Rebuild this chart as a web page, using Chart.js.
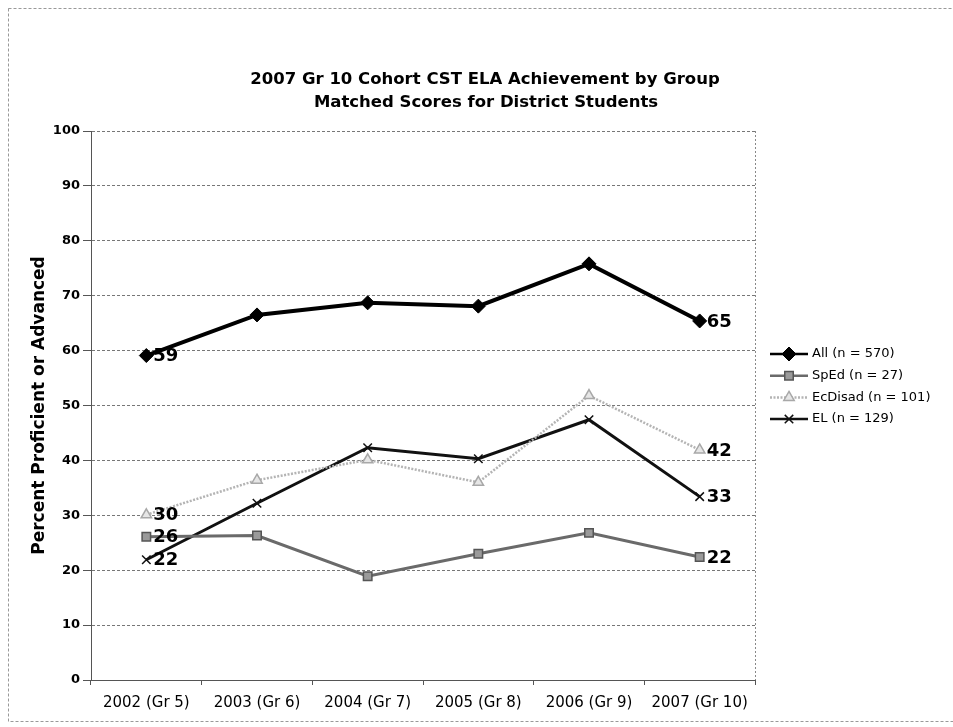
<!DOCTYPE html>
<html>
<head>
<meta charset="utf-8">
<script src="https://cdn.jsdelivr.net/npm/chart.js@4/dist/chart.umd.min.js"></script>
<style>
  html, body { margin: 0; padding: 0; background: #fff; }
  #wrap { width: 953px; height: 727px; }
</style>
</head>
<body>
<div id="wrap"><canvas id="c" width="953" height="727"></canvas></div>
<script>
const years = ["2002 (Gr 5)", "2003 (Gr 6)", "2004 (Gr 7)", "2005 (Gr 8)", "2006 (Gr 9)", "2007 (Gr 10)"];
const allStudents = [59.1, 66.5, 68.7, 68.1, 75.8, 65.4];
const spEd = [26.1, 26.3, 18.9, 23.0, 26.8, 22.4];
const ecDisad = [30.1, 36.4, 40.1, 36.0, 51.8, 41.9];
const el = [21.9, 32.2, 42.3, 40.3, 47.4, 33.4];
const yTicks = [0, 10, 20, 30, 40, 50, 60, 70, 80, 90, 100];
const titleLines = ["2007 Gr 10 Cohort CST ELA Achievement by Group", "Matched Scores for District Students"];

const FONT = "'DejaVu Sans', Verdana, sans-serif";

// white page, outer frame, title
const frame = {
  id: "frame",
  beforeDraw(chart){
    const ctx = chart.ctx;
    ctx.save();
    ctx.fillStyle = "#fff";
    ctx.fillRect(0, 0, chart.width, chart.height);
    ctx.strokeStyle = "#999";
    ctx.lineWidth = 1;
    ctx.setLineDash([3, 2]);
    ctx.strokeRect(8.5, 8.5, chart.width - 2, chart.height - 14);
    ctx.setLineDash([]);
    ctx.fillStyle = "#000";
    ctx.font = "bold 16.5px " + FONT;
    ctx.textAlign = "center";
    ctx.textBaseline = "middle";
    ctx.fillText(titleLines[0], 485, 80);
    ctx.fillText(titleLines[1], 486, 103);
    ctx.restore();
  },
  afterDatasetsDraw(chart){
    // dotted right edge of plot area
    const a = chart.chartArea, ctx = chart.ctx;
    ctx.save();
    ctx.strokeStyle = "#888";
    ctx.setLineDash([2, 2]);
    ctx.beginPath();
    ctx.moveTo(a.right + 0.5, a.top);
    ctx.lineTo(a.right + 0.5, a.bottom);
    ctx.stroke();
    ctx.restore();
  }
};

// first/last value labels
const endLabels = {
  id: "endLabels",
  afterDatasetsDraw(chart){
    const ctx = chart.ctx;
    ctx.save();
    ctx.fillStyle = "#000";
    ctx.font = "bold 18px " + FONT;
    ctx.textBaseline = "middle";
    ctx.textAlign = "left";
    chart.data.datasets.forEach((ds, i) => {
      const pts = chart.getDatasetMeta(i).data;
      [0, pts.length - 1].forEach(j => {
        ctx.fillText(Math.round(ds.data[j]), pts[j].x + 7, pts[j].y + 1);
      });
    });
    ctx.restore();
  }
};

// legend: line sample + marker + text
const sideLegend = {
  id: "sideLegend",
  afterDraw(chart){
    const ctx = chart.ctx;
    const x0 = 770, x1 = 808;
    ctx.save();
    chart.data.datasets.forEach((ds, i) => {
      const y = 354 + i * 21.7;
      ctx.strokeStyle = ds.borderColor;
      ctx.lineWidth = Math.min(ds.borderWidth, 2.5);
      ctx.setLineDash(ds.borderDash || []);
      ctx.beginPath();
      ctx.moveTo(x0, y);
      ctx.lineTo(x1, y);
      ctx.stroke();
      ctx.setLineDash([]);
      ctx.fillStyle = ds.pointBackgroundColor;
      ctx.strokeStyle = ds.pointBorderColor;
      ctx.lineWidth = ds.pointBorderWidth;
      Chart.helpers.drawPoint(ctx, {
        pointStyle: ds.pointStyle,
        radius: ds.pointRadius,
        rotation: 0,
        borderWidth: ds.pointBorderWidth
      }, (x0 + x1) / 2, y);
      ctx.fillStyle = "#000";
      ctx.font = "13px " + FONT;
      ctx.textBaseline = "middle";
      ctx.textAlign = "left";
      ctx.fillText(ds.label, 812, y);
    });
    ctx.restore();
  }
};

new Chart(document.getElementById("c"), {
  type: "line",
  data: {
    labels: years,
    datasets: [
      {
        label: "All (n = 570)", data: allStudents,
        borderColor: "#000", backgroundColor: "#000", borderWidth: 4,
        pointStyle: "rectRot", pointRadius: 7, pointBorderWidth: 1,
        pointBackgroundColor: "#000", pointBorderColor: "#000"
      },
      {
        label: "SpEd (n = 27)", data: spEd,
        borderColor: "#6a6a6a", backgroundColor: "#999", borderWidth: 3,
        pointStyle: "rect", pointRadius: 6, pointBorderWidth: 1.5,
        pointBackgroundColor: "#9a9a9a", pointBorderColor: "#555"
      },
      {
        label: "EcDisad (n = 101)", data: ecDisad,
        borderColor: "#b4b4b4", backgroundColor: "#ddd", borderWidth: 2.5,
        borderDash: [2, 1.5],
        pointStyle: "triangle", pointRadius: 6, pointBorderWidth: 1.5,
        pointBackgroundColor: "#e6e6e6", pointBorderColor: "#a8a8a8"
      },
      {
        label: "EL (n = 129)", data: el,
        borderColor: "#111", backgroundColor: "#111", borderWidth: 3,
        pointStyle: "crossRot", pointRadius: 6, pointBorderWidth: 1.5,
        pointBackgroundColor: "#111", pointBorderColor: "#111"
      }
    ]
  },
  options: {
    responsive: false,
    animation: false,
    layout: { padding: { top: 131, right: 198, left: 0, bottom: 0 } },
    plugins: {
      legend: { display: false },
      title: { display: false },
      tooltip: { enabled: false }
    },
    elements: { line: { tension: 0 } },
    scales: {
      x: {
        offset: true,
        grid: { offset: true, drawOnChartArea: false, tickLength: 5, color: "#555" },
        border: { color: "#555", width: 1 },
        ticks: { color: "#000", font: { family: FONT, size: 15 }, padding: 9, maxRotation: 0 },
        afterFit(s){ s.height = 47; }
      },
      y: {
        min: 0, max: 100,
        afterBuildTicks(s){ s.ticks = yTicks.map(v => ({ value: v })); },
        grid: {
          color: "#777", lineWidth: 1, tickLength: 8,
          tickColor: "#555", tickBorderDash: [], tickWidth: 1
        },
        border: { color: "#555", width: 1, dash: [3, 2] },
        ticks: { color: "#000", font: { family: FONT, size: 13, weight: "bold" }, padding: 3 },
        title: {
          display: true, text: "Percent Proficient or Advanced",
          color: "#000", font: { family: FONT, size: 17, weight: "bold" },
          padding: { top: 29, bottom: 0 }
        },
        afterFit(s){ s.width = 91; }
      }
    }
  },
  plugins: [frame, endLabels, sideLegend]
});
</script>
</body>
</html>
